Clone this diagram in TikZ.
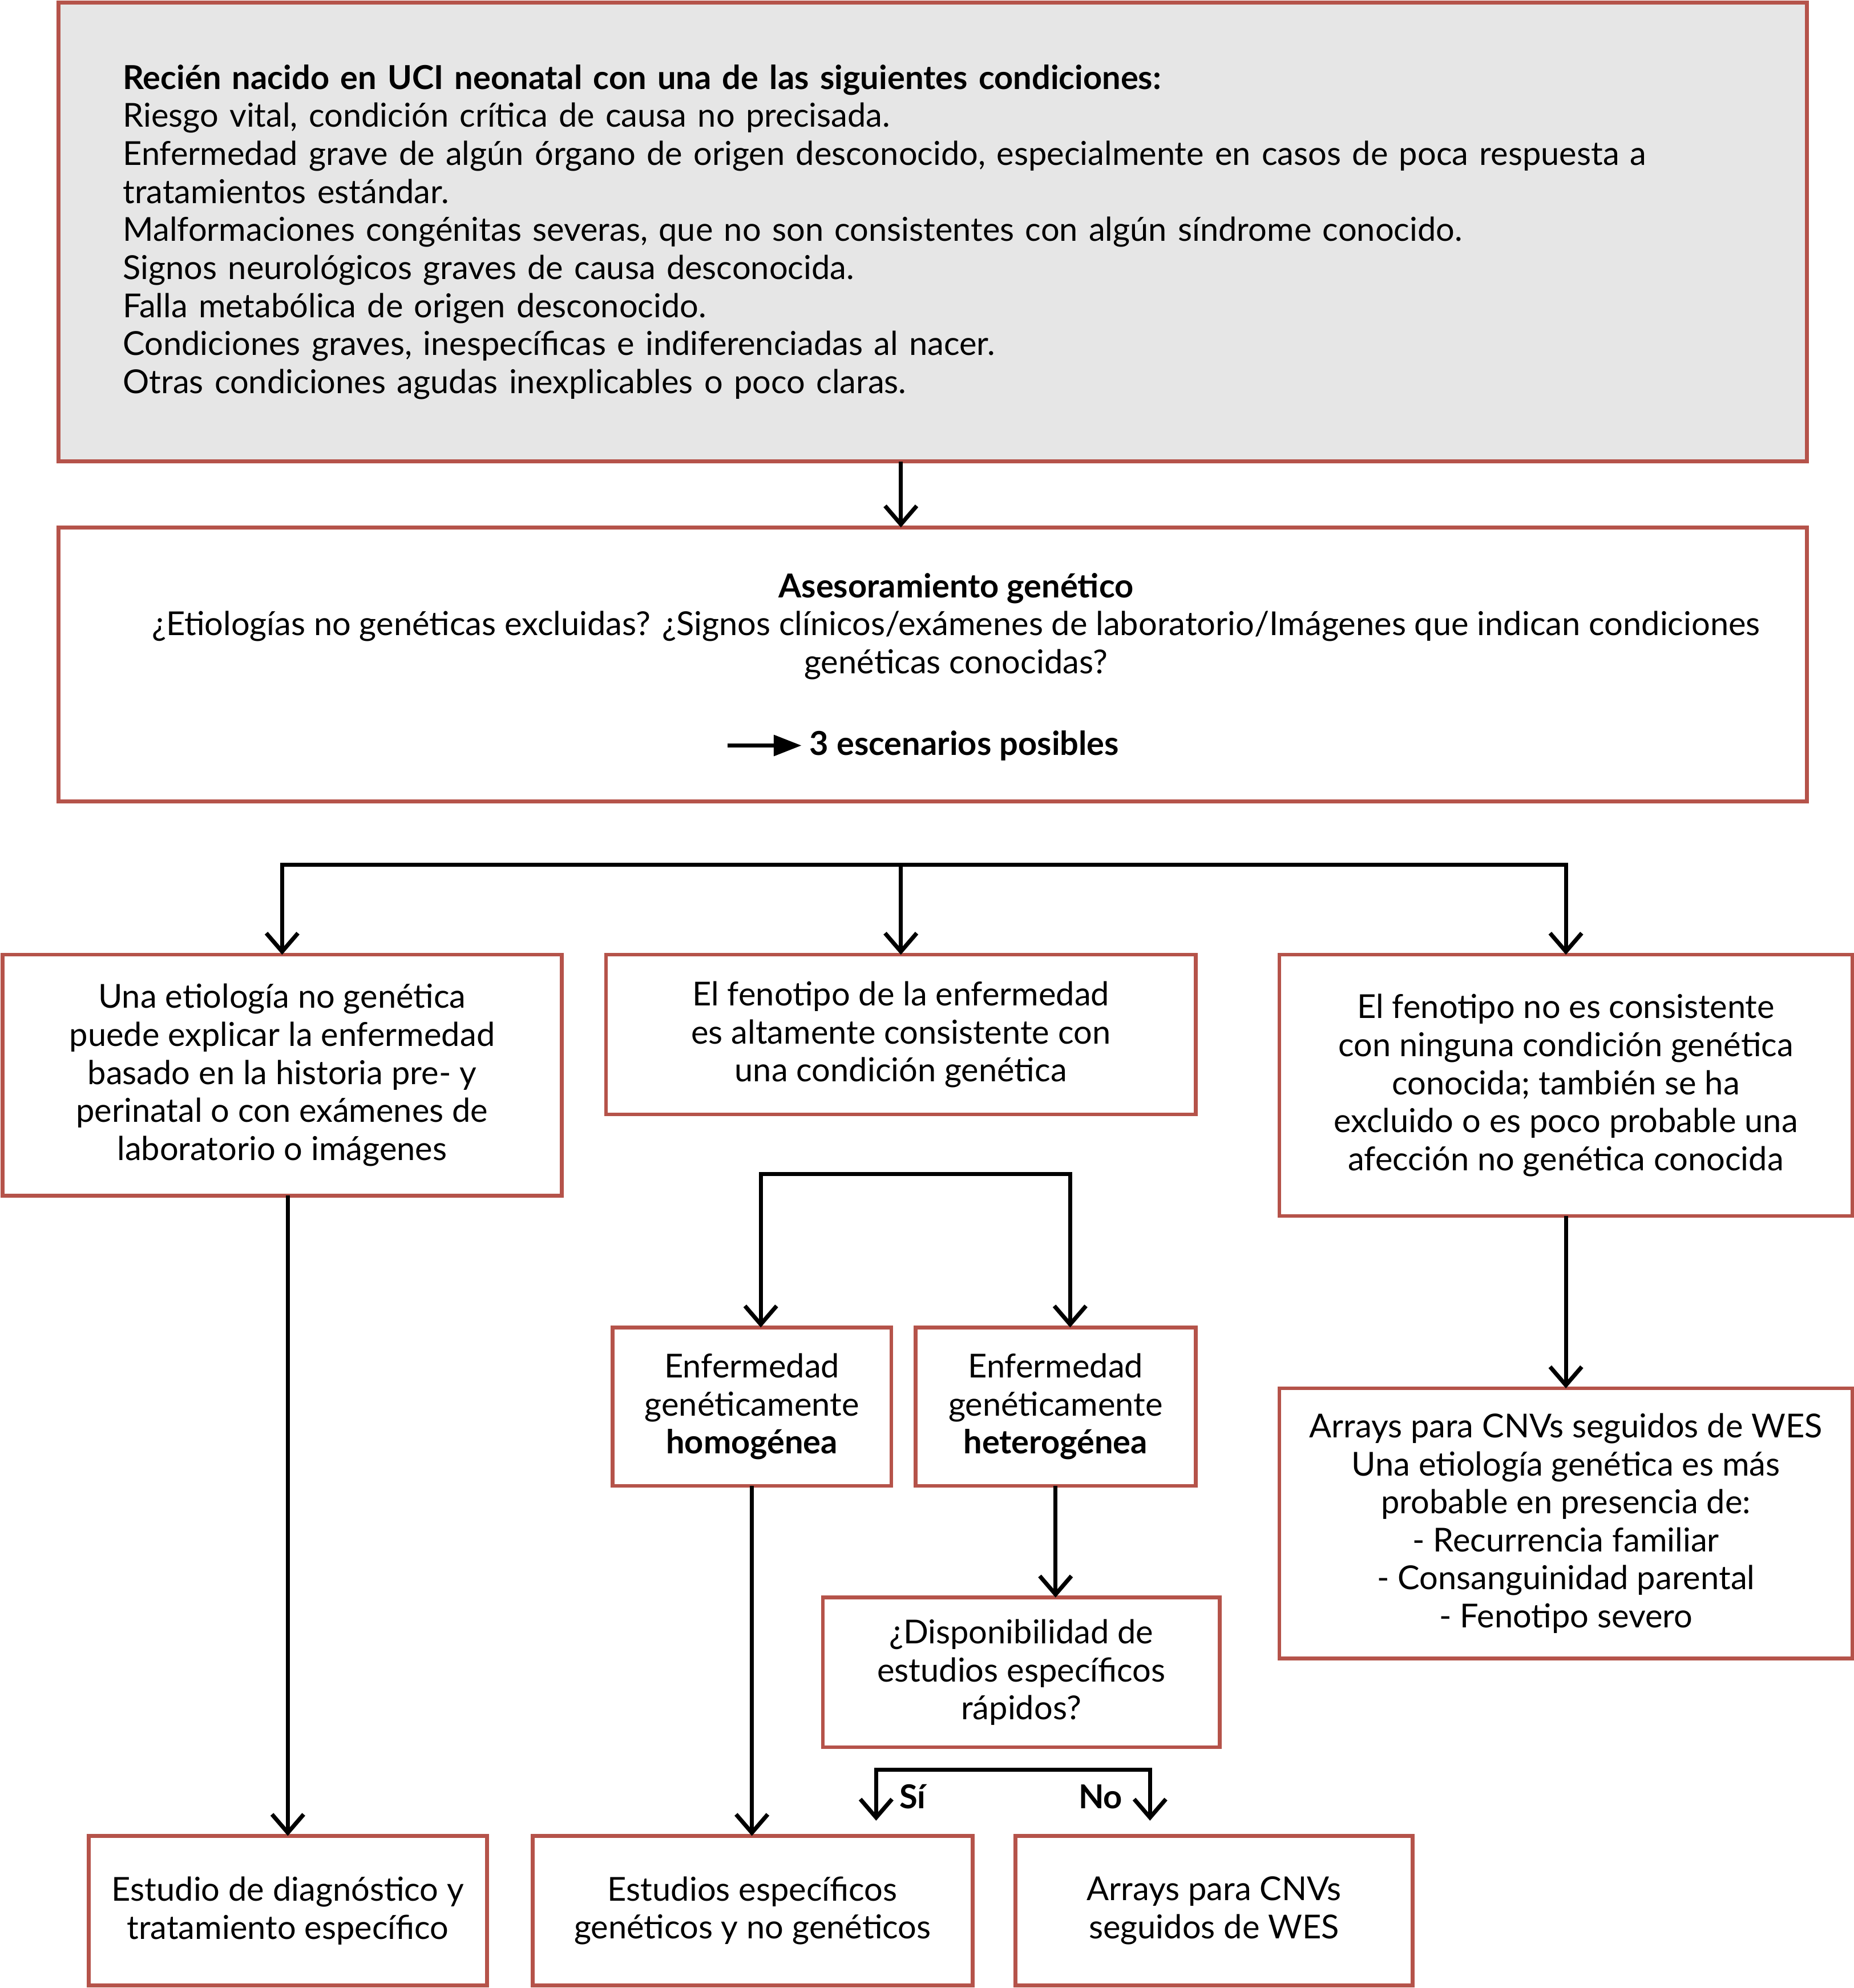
\documentclass[tikz,border=0pt]{standalone}
\usepackage{fontspec}
\setmainfont{Lato}
\usetikzlibrary{arrows.meta, positioning, calc}
\definecolor{rojizo}{RGB}{181,83,74}
\definecolor{grisclaro}{RGB}{230,230,230}
\tikzstyle{caja} = [
  rectangle,
  draw=rojizo,
  line width=1.7pt,
  fill=white,
  align=center,
  inner sep=0pt,
  outer sep=0pt,
  text centered
]
\tikzstyle{cajagris} = [
  caja,
  fill=grisclaro,
  align=left
]
\tikzstyle{linea} = [line width=1.85pt, black]
\tikzstyle{flecha} = [
  line width=1.85pt,
  -{Straight Barb[length=2.9mm,width=5mm]},
  black
]
\tikzstyle{flechas} = [
  line width=1.85pt,
  {Straight Barb[length=2.9mm,width=5mm]}-{Straight Barb[length=2.9mm,width=5mm]},
  black
]
\tikzstyle{flechallena} = [
  line width=2pt,
  -{Triangle[length=4.4mm,width=3.2mm]},
  black
]

\begin{document}
\begin{tikzpicture}[font=\fontsize{14.8}{17.07}\selectfont]
    \useasboundingbox (0,0) rectangle (29.24,-31.36);

    \node[cajagris, minimum width=27.58cm, minimum height=7.24cm, text width=25.54cm] (A) at (14.71,-3.66) {\textbf{Recién nacido en UCI neonatal con una de las siguientes condiciones:}\\
    Riesgo vital, condición crítica de causa no precisada.\\
    Enfermedad grave de algún órgano de origen desconocido, especialmente en casos de poca respuesta a\\
    tratamientos estándar.\\
    Malformaciones congénitas severas, que no son consistentes con algún síndrome conocido.\\
    Signos neurológicos graves de causa desconocida.\\
    Falla metabólica de origen desconocido.\\
    Condiciones graves, inespecíficas e indiferenciadas al nacer.\\
    Otras condiciones agudas inexplicables o poco claras.};

    \node[caja, minimum width=27.58cm, minimum height=4.32cm] (B) at (14.71,-10.48) {};
    \node[align=center] (B1) at (15.08,-9.88) {\textbf{Asesoramiento genético}\\
    ¿Etiologías no genéticas excluidas? ¿Signos clínicos/exámenes de laboratorio/Imágenes que indican condiciones\\
    genéticas conocidas?};
    \node (B2) at (15.21,-11.76) {\textbf{3 escenarios posibles}};

    \node[caja, minimum width=8.82cm, minimum height=3.8cm] (C) at (4.45,-16.96) {Una etiología no genética\\ puede explicar la enfermedad\\ basado en la historia pre- y\\ perinatal o con exámenes de\\ laboratorio o imágenes};
    \node[caja, minimum width=9.3cm, minimum height=2.52cm] (D) at (14.21,-16.32) {El fenotipo de la enfermedad\\ es altamente consistente con\\ una condición genética};
    \node[caja, minimum width=9.04cm, minimum height=4.12cm] (E) at (24.7,-17.12) {El fenotipo no es consistente\\ con ninguna condición genética\\ conocida; también se ha\\ excluido o es poco probable una\\ afección no genética conocida};

    \node[caja, minimum width=4.4cm, minimum height=2.5cm] (F) at (11.86,-22.19) {Enfermedad\\ genéticamente\\ \textbf{homogénea}};
    \node[caja, minimum width=4.42cm, minimum height=2.5cm] (G) at (16.65,-22.19) {Enfermedad\\ genéticamente\\ \textbf{heterogénea}};
    \node[caja, minimum width=6.26cm, minimum height=2.36cm] (H) at (16.11,-26.38) {¿Disponibilidad de\\ estudios específicos\\ rápidos?};
    \node[caja, minimum width=9.04cm, minimum height=4.26cm] (I) at (24.7,-24.03) {Arrays para CNVs seguidos de WES\\ Una etiología genética es más\\ probable en presencia de:\\ - Recurrencia familiar\\ - Consanguinidad parental\\ - Fenotipo severo};

    \node[caja, minimum width=6.28cm, minimum height=2.36cm] (J) at (4.54,-30.14) {Estudio de diagnóstico y\\ tratamiento específico};
    \node[caja, minimum width=6.94cm, minimum height=2.36cm] (K) at (11.87,-30.14) {Estudios específicos\\ genéticos y no genéticos};
    \node[caja, minimum width=6.26cm, minimum height=2.36cm] (L) at (19.15,-30.14) {Arrays para CNVs\\ seguidos de WES};

    \coordinate (rama) at (14.2,-13.64);
    \coordinate (rh) at (12.0,-18.52);
    \coordinate (rt) at (16.88,-18.52);
    \coordinate (si) at (13.82,-27.92);
    \coordinate (no) at (18.14,-27.92);

    \draw[flecha] (A.south -| D.north) -- (B.north -| D.north);
    \draw[flechallena] ($(B2.west)+(-1.17,0)$) -- (B2.west);
    \draw[flechas] (C.north) -- (C.north |- rama) -- (E.north |- rama) -- (E.north);
    \draw[flecha] (D.north |- rama) -- (D.north);
    \draw[flecha] (C.south -| J.north) -- (J.north);
    \draw[flechas] (rh |- F.north) -- (rh) -- (rt) -- (rt |- G.north);
    \draw[flecha] (F.south) -- (F.south |- K.north);
    \draw[flecha] (G.south) -- (G.south |- H.north);
    \draw[flecha] (E.south) -- (I.north);
    \draw[flechas] ($(si)+(0,-0.8)$) -- (si) -- (no) -- ($(no)+(0,-0.8)$);
    \node (SI) at (14.41,-28.34) {\textbf{Sí}};
    \node (NO) at (17.36,-28.34) {\textbf{No}};
\end{tikzpicture}
\end{document}
